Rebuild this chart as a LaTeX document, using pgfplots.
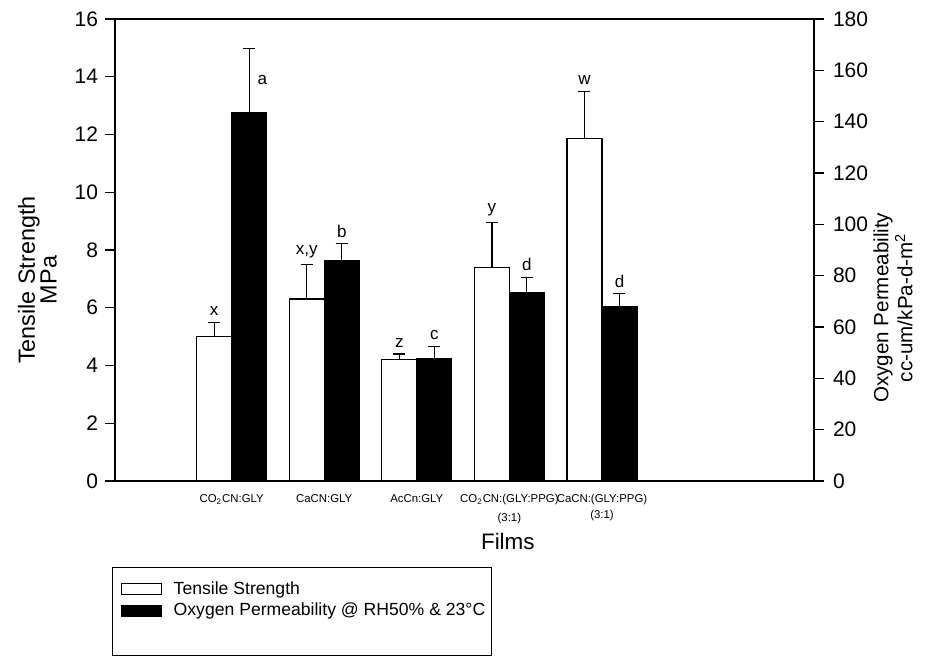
\documentclass[border=0pt]{standalone}
\usepackage{pgfplots}
\pgfplotsset{compat=1.18}
\usepackage{fontspec}
\setmainfont{Liberation Sans}
\begin{document}
\begin{tikzpicture}
\pgfplotsset{
  error bars/draw error bar/.code 2 args={%
    \draw[black, line width=0.6pt] #1 -- #2;
    \draw[black, line width=0.6pt] #2 ++(-3pt,0) -- ++(6pt,0);
  },
  base/.style={
    scale only axis, width=349.5pt, height=231pt,
    at={(0,0)}, anchor=south west,
    xmin=-1.26, xmax=6.29,
    /pgf/number format/assume math mode=true,
    tick align=outside, major tick length=5pt,
    tick label style={font=\fontsize{10.5}{12}\selectfont},
    axis line style={line width=0.6pt},
    tick style={line width=0.6pt, black},
    bar width=0.378,
    error bars/y dir=plus, error bars/y explicit,
  },
  lab/.style={draw=none, mark=none, forget plot, nodes near coords,
    point meta=explicit symbolic,
    nodes near coords style={anchor=south, font=\fontsize{8.5}{10}\selectfont, inner sep=1pt, yshift=2pt, black}},
}
\begin{axis}[base,
  ymin=0, ymax=16, ytick={0,2,...,16}, ytick pos=left,
  xtick={0,1,2,3,4},
  xticklabels={CO\textsubscript{2}CN:GLY, CaCN:GLY, AcCn:GLY, CO\textsubscript{2}CN:(GLY:PPG)\\[1.5pt](3:1), CaCN:(GLY:PPG)\\(3:1)},
  x tick style={draw=none}, xtick pos=bottom,
  xticklabel style={font=\fontsize{5.7}{8}\selectfont, align=center, anchor=north, yshift=2pt},
  ylabel={Tensile Strength\\MPa},
  ylabel style={at={(axis description cs:-0.111,0.435)}, anchor=center, align=center,
    font=\fontsize{11.7}{10.8}\selectfont},
  xlabel={Films},
  xlabel style={at={(axis description cs:0.562,-0.13)}, anchor=center,
    font=\fontsize{11.2}{12}\selectfont},
]
\addplot[ybar, bar shift=0pt, fill=white, draw=black, line width=0.6pt]
  table[x=x, y=y, y error=e] {
x y e
-0.189 5.0 0.5
0.811 6.3 1.2
1.811 4.2 0.2
2.811 7.4 1.55
3.811 11.85 1.65
};
\addplot[lab] coordinates {
(-0.189,5.5) [x]
(0.811,7.5) [{x,y}]
(1.811,4.4) [z]
(2.811,8.95) [y]
(3.811,13.5) [w]
};
\end{axis}
\begin{axis}[base,
  ymin=0, ymax=180, ytick={0,20,...,180},
  axis y line*=right, axis x line=none,
  yticklabel style={xshift=1pt},
  ylabel={Oxygen Permeability\\cc-um/kPa-d-m\textsuperscript{2}},
  ylabel style={at={(axis description cs:1.113,0.375)}, anchor=center, align=center,
    font=\fontsize{10.3}{12}\selectfont},
  legend style={at={(axis description cs:-0.004,-0.186)}, anchor=north west,
    draw=black, line width=0.5pt, font=\fontsize{8.8}{9.5}\selectfont,
    inner xsep=2pt, inner ysep=5pt, row sep=-1pt,
    nodes={inner xsep=1pt}},
  legend cell align=left,
  legend image code/.code={\draw[#1, line width=0.5pt] (0cm,-0.095cm) rectangle (0.7cm,0.095cm);
    \path (-2pt,0) (24.92pt,0);},
]
\addlegendimage{fill=white, draw=black}
\addlegendentry{Tensile Strength}
\addplot[ybar, bar shift=0pt, fill=black, draw=black, line width=0.6pt]
  table[x=x, y=y, y error=e] {
x y e
0.189 143.5 25
1.189 85.8 6.6
2.189 47.5 5
3.189 73.5 5.8
4.189 68 5
};
\addlegendentry{Oxygen Permeability @ RH50\% \& 23°C}
\addlegendimage{empty legend}
\addlegendentry{\strut}
\addplot[lab] coordinates {
(1.189,92.4) [b]
(2.189,52.5) [c]
(3.189,79.3) [d]
(4.189,73) [d]
};
\addplot[lab, nodes near coords style={anchor=west, yshift=0pt, xshift=3pt}] coordinates {
(0.189,154.5) [a]
};
\end{axis}
\path (-57.5pt,-89.5pt) rectangle (408.5pt,240.5pt);
\end{tikzpicture}
\end{document}
